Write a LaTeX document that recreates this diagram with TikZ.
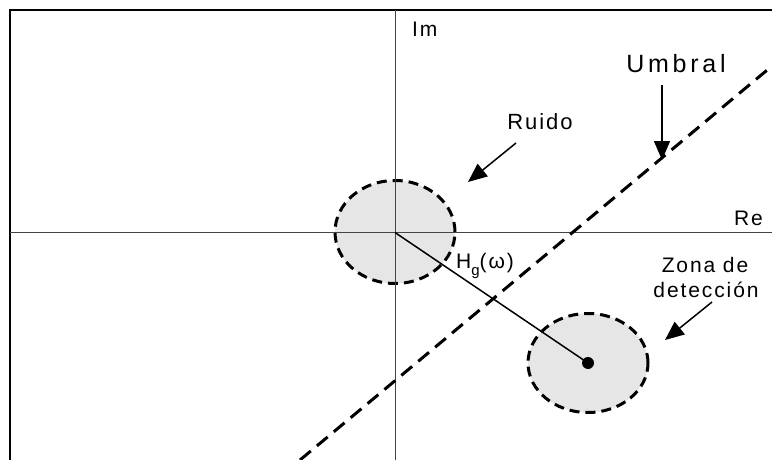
\documentclass[tikz,border=0pt]{standalone}
\usepackage{fontspec}
\setmainfont{Liberation Sans}
\newfontfamily\espaciada[LetterSpace=9]{Liberation Sans}
\newfontfamily\muyEspaciada[LetterSpace=15]{Liberation Sans}
\usetikzlibrary{arrows.meta,shapes.geometric}
\definecolor{zonaGris}{HTML}{E6E6E6}
\definecolor{ejeGris}{HTML}{444444}

\begin{document}
\begin{tikzpicture}[x=1pt,y=-1pt,
  zona/.style={ellipse,draw,fill=zonaGris,line width=3pt,dash pattern=on 10pt off 6pt,inner sep=0pt},
  flecha/.style={-{Triangle[length=19pt,width=16pt]},line width=1.5pt},
  rotulo/.style={font=\espaciada\fontsize{21}{25}\selectfont,inner sep=0pt,anchor=base}]
\useasboundingbox (0,0) rectangle (772,460);
% marco
\draw[line width=2pt] (9.5,460) -- (9.5,10.5) -- (772,10.5);
% zonas de ruido y de deteccion
\node[zona,minimum width=120pt,minimum height=103pt] (ruido) at (395,232) {};
\node[zona,minimum width=120pt,minimum height=99pt] (deteccion) at (588,363) {};
% ejes
\draw[ejeGris,line width=1pt] (9.5,232.5) -- (772,232.5);
\draw[ejeGris,line width=1pt] (395,10.5) -- (395,460);
\node[rotulo,anchor=base west] (im) at (412,37) {Im};
\node[rotulo,anchor=base west] (re) at (734,225) {Re};
% vector H_g
\coordinate (origen) at (395,232.5);
\node[circle,fill=black,inner sep=0pt,minimum size=12pt] (punto) at (588,363) {};
\draw[line width=1.5pt] (origen) -- (punto.center);
\node[rotulo,anchor=base west] (hg) at (456,268) {H\raisebox{-0.35em}{\fontsize{15}{18}\selectfont g}(ω)};
% umbral
\coordinate (umbralA) at (300,460);
\coordinate (umbralB) at (772,66);
\draw[line width=3pt,dash pattern=on 14pt off 8pt] (umbralA) -- (umbralB);
\node[rotulo,font=\muyEspaciada\fontsize{25}{30}\selectfont] (umbral) at (676,73) {Umbral};
\coordinate (umbralIni) at (662,85);
\coordinate (umbralFin) at (662,160);
\draw[flecha] (umbralIni) -- (umbralFin);
% rotulos con flecha
\node[rotulo,font=\espaciada\fontsize{22}{26}\selectfont] (ruidoTxt) at (540,129) {Ruido};
\coordinate (ruidoIni) at (516,143);
\coordinate (ruidoFin) at (468,182);
\draw[flecha] (ruidoIni) -- (ruidoFin);
\node[rotulo] (zonaTxt) at (705,272) {Zona de};
\node[rotulo] (deteccionTxt) at (706,297) {detección};
\coordinate (zonaIni) at (712,302);
\coordinate (zonaFin) at (665,340);
\draw[flecha] (zonaIni) -- (zonaFin);
\end{tikzpicture}
\end{document}
